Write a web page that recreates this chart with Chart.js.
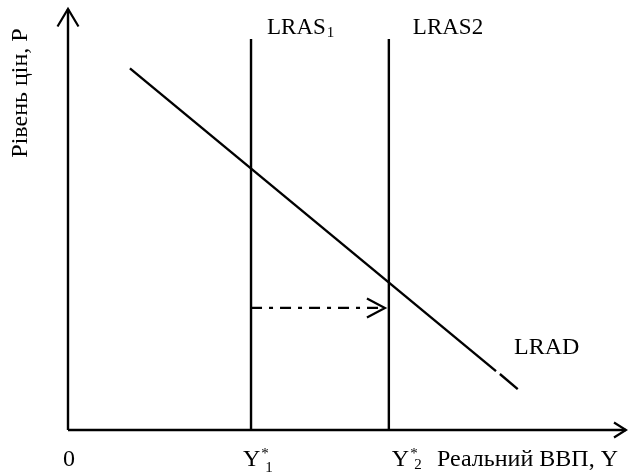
<!DOCTYPE html>
<html>
<head>
<meta charset="utf-8">
<script src="https://cdn.jsdelivr.net/npm/chart.js@4/dist/chart.umd.min.js"></script>
<style>
  html, body { margin: 0; padding: 0; background: #fff; }
  canvas { display: block; }
</style>
</head>
<body>
<canvas id="chart" width="628" height="473"></canvas>
<script>
// axis extents (output on x, price level on y)
const outputRange = [0, 100];
const priceRange = [0, 100];

// long-run aggregate supply: Y*1 and Y*2, vertical up to lrasTop
const lrasOutput = [32.8, 57.5];
const lrasTop = 92.9;

// long-run aggregate demand (drawn with a small break near its end)
const lradOutputA = [11.1, 76.7];
const lradPriceA = [85.9, 14.0];
const lradOutputB = [77.4, 80.6];
const lradPriceB = [13.3, 9.7];

// dash-dot shift arrow from LRAS1 to LRAS2
const shiftOutput = [32.8, 56.8];
const shiftPrice = 29.0;

const FONT = '"Liberation Serif", "Times New Roman", serif';

const pts = (xs, ys) => xs.map((x, i) => ({ x, y: ys[i] }));

const line = (data, extra) => ({
    data,
    showLine: true,
    borderColor: "#000",
    borderWidth: 2.4,
    pointRadius: 0,
    fill: false,
    clip: false,
    ...extra
});

const datasets = [
    line(pts([outputRange[0], outputRange[1]], [0, 0])),
    line(pts([0, 0], [priceRange[0], priceRange[1]])),
    line(pts([lrasOutput[0], lrasOutput[0]], [0, lrasTop])),
    line(pts([lrasOutput[1], lrasOutput[1]], [0, lrasTop])),
    line(pts(lradOutputA, lradPriceA)),
    line(pts(lradOutputB, lradPriceB)),
    line(pts(shiftOutput, [shiftPrice, shiftPrice]), { borderDash: [11, 7, 4, 7] })
];

const chevron = (ctx, tx, ty, dx, dy, len, half) => {
    // dx,dy: unit direction of the arrow
    const bx = tx - dx * len, by = ty - dy * len;
    ctx.beginPath();
    ctx.moveTo(bx - dy * half, by + dx * half);
    ctx.lineTo(tx, ty);
    ctx.lineTo(bx + dy * half, by - dx * half);
    ctx.stroke();
};

const text = (ctx, str, x, y, size) => {
    ctx.font = size + "px " + FONT;
    ctx.fillText(str, x, y);
    return ctx.measureText(str).width;
};

const decorations = {
    id: "decorations",
    afterDatasetsDraw(chart) {
        const { ctx, scales } = chart;
        const xs = scales.x, ys = scales.y;
        const x0 = xs.getPixelForValue(0), y0 = ys.getPixelForValue(0);
        const x1 = xs.getPixelForValue(lrasOutput[0]);
        const x2 = xs.getPixelForValue(lrasOutput[1]);

        ctx.save();
        ctx.strokeStyle = "#000";
        ctx.fillStyle = "#000";
        ctx.lineWidth = 2.2;
        ctx.setLineDash([]);

        // arrow heads
        chevron(ctx, x0, ys.getPixelForValue(priceRange[1]), 0, -1, 17.5, 10.5);
        chevron(ctx, xs.getPixelForValue(outputRange[1]), y0, 1, 0, 12, 7.5);
        chevron(ctx, xs.getPixelForValue(shiftOutput[1]), ys.getPixelForValue(shiftPrice), 1, 0, 18, 9.5);

        ctx.textAlign = "left";
        ctx.textBaseline = "alphabetic";

        // curve labels
        let w = text(ctx, "LRAS", x1 + 16, 34, 23);
        text(ctx, "1", x1 + 16 + w + 1, 37, 15);
        text(ctx, "LRAS2", x2 + 24, 34, 23);
        text(ctx, "LRAD", 514, 354, 24);

        // x-axis labels
        const by = 466;
        text(ctx, "0", x0 - 5, by, 24);
        w = text(ctx, "Y", x1 - 8, by, 24);
        text(ctx, "*", x1 - 8 + w + 1, by - 8, 15);
        text(ctx, "1", x1 - 8 + w + 5, by + 6, 15);
        w = text(ctx, "Y", x2 + 3, by, 24);
        text(ctx, "*", x2 + 3 + w + 1, by - 8, 15);
        text(ctx, "2", x2 + 3 + w + 5, by + 3, 15);
        text(ctx, "Реальний ВВП, Y", 437, by, 24);

        // y-axis title
        ctx.translate(27, 93);
        ctx.rotate(-Math.PI / 2);
        ctx.textAlign = "center";
        text(ctx, "Рівень цін, Р", 0, 0, 24);

        ctx.restore();
    }
};

new Chart(document.getElementById("chart"), {
    type: "scatter",
    data: { datasets },
    options: {
        responsive: false,
        animation: false,
        layout: { padding: { left: 68, right: 2, top: 9, bottom: 43 } },
        scales: {
            x: { type: "linear", min: outputRange[0], max: outputRange[1], display: false },
            y: { type: "linear", min: priceRange[0], max: priceRange[1], display: false }
        },
        plugins: {
            legend: { display: false },
            tooltip: { enabled: false }
        }
    },
    plugins: [decorations]
});
</script>
</body>
</html>
